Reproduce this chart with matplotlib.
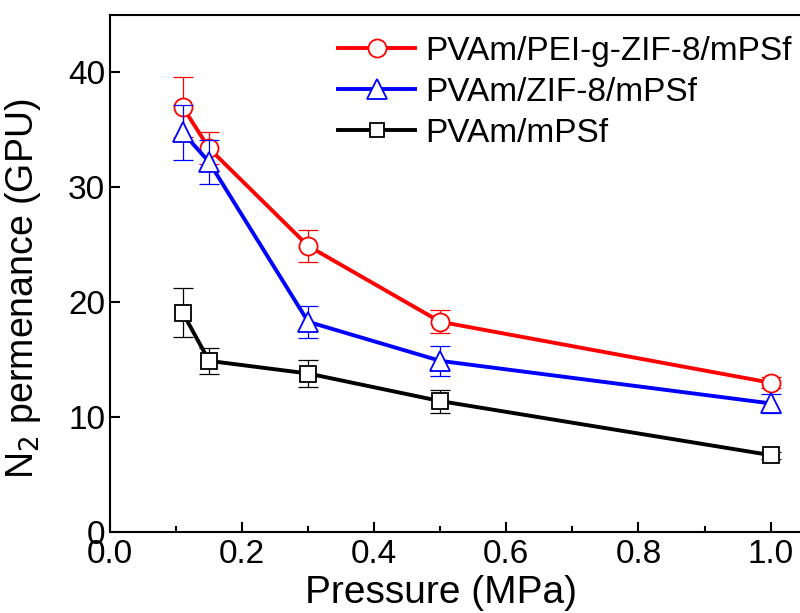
import matplotlib.pyplot as plt
from matplotlib.lines import Line2D
from matplotlib.ticker import MultipleLocator

plt.rcParams['font.family'] = ['Liberation Sans', 'DejaVu Sans']

# pressure (MPa)
pressure = [0.11, 0.15, 0.3, 0.5, 1.0]

# N2 permeance (GPU) and error bars
pei_zif = [37.0, 33.4, 24.9, 18.3, 13.0]
pei_zif_err = [2.6, 1.4, 1.4, 1.0, 0.5]
zif = [34.8, 32.2, 18.3, 14.9, 11.2]
zif_err = [2.4, 1.9, 1.4, 1.3, 0.8]
plain = [19.1, 14.9, 13.8, 11.4, 6.7]
plain_err = [2.1, 1.1, 1.2, 1.0, 0.3]

labels = ['PVAm/PEI-g-ZIF-8/mPSf', 'PVAm/ZIF-8/mPSf', 'PVAm/mPSf']

fig = plt.figure(figsize=(8, 6.13), dpi=100)
ax = fig.add_axes([0.1375, 0.132, 0.867, 0.8435])

series = [
    (pei_zif, pei_zif_err, 'red', 'o', 13),
    (zif, zif_err, 'blue', '^', 15),
    (plain, plain_err, 'black', 's', 12),
]
handles = []
for (vals, errs, col, mk, ms), lab in zip(series, labels):
    ax.errorbar(pressure, vals, yerr=errs, fmt='none', ecolor=col,
                elinewidth=0.9, capsize=7, capthick=0.9)
    ax.plot(pressure, vals, color=col, lw=2.8, marker=mk, ms=ms,
            mfc='white', mec=col, mew=1.3)
    handles.append(Line2D([], [], color=col, lw=2.8, marker=mk,
                          ms=ms if mk != 's' else 10,
                          mfc='white', mec=col, mew=1.3, label=lab))

ax.set_xlim(0, 1.05)
ax.set_ylim(0, 45)
ax.xaxis.set_major_locator(MultipleLocator(0.2))
ax.xaxis.set_minor_locator(MultipleLocator(0.1))
ax.yaxis.set_major_locator(MultipleLocator(10))
ax.tick_params(which='both', direction='in', labelsize=24, width=1.5)
ax.tick_params(which='major', length=7)
ax.tick_params(which='minor', length=4)
ax.tick_params(axis='x', pad=5)
for sp in ax.spines.values():
    sp.set_linewidth(1.5)

ax.set_xlabel('Pressure (MPa)', fontsize=28)
ax.set_ylabel('N$_2$ permenance (GPU)', fontsize=27)
ax.xaxis.set_label_coords(0.477, -0.083)
ax.yaxis.set_label_coords(-0.097, 0.47)

ax.legend(handles=handles, loc='upper left', frameon=False, fontsize=24,
          handlelength=2.3, borderaxespad=0, borderpad=0,
          labelspacing=0.3, handletextpad=0.3,
          bbox_to_anchor=(0.329, 0.96))

fig.savefig('out.png', dpi=100)
